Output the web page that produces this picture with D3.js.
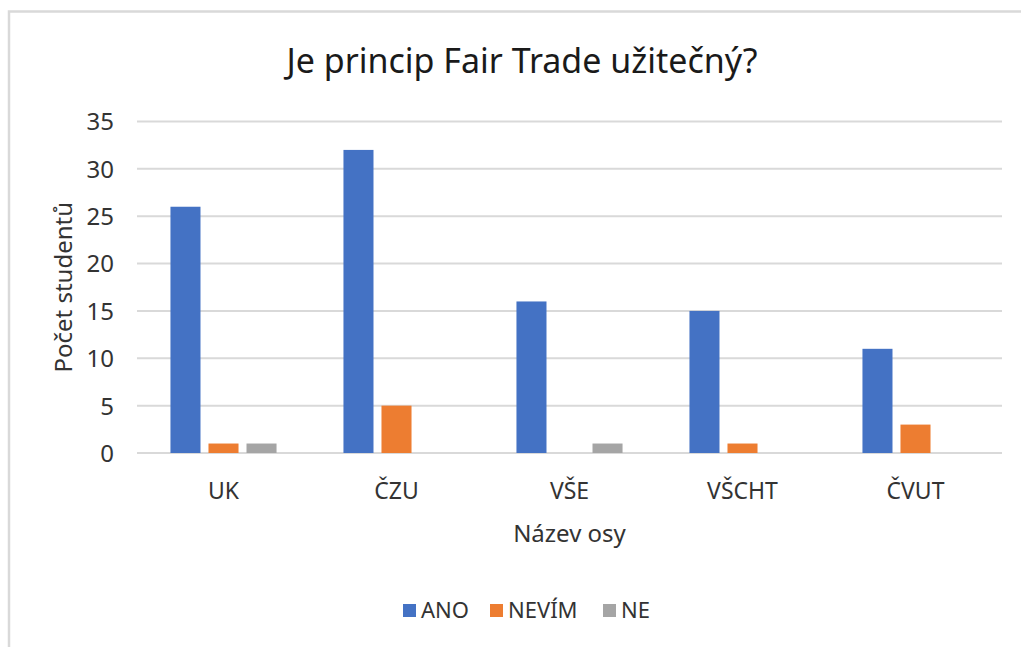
<!DOCTYPE html>
<html>
<head>
<meta charset="utf-8">
<script src="https://cdn.jsdelivr.net/npm/d3@7"></script>
<style>
    body { margin: 0; background: #fff; }
    text { font-family: "Noto Sans", "Open Sans", sans-serif; }
</style>
</head>
<body>
<svg id="chart" width="1021" height="647"></svg>
<script>
// data
const categories = ["UK", "ČZU", "VŠE", "VŠCHT", "ČVUT"];
const seriesNames = ["ANO", "NEVÍM", "NE"];
const anoValues = [26, 32, 16, 15, 11];
const nevimValues = [1, 5, 0, 1, 3];
const neValues = [1, 0, 1, 0, 0];
const yTicks = [0, 5, 10, 15, 20, 25, 30, 35];
const seriesColors = ["#4472C4", "#ED7D31", "#A5A5A5"];

const seriesValues = [anoValues, nevimValues, neValues];
const rows = categories.map((c, i) => ({
    category: c,
    values: seriesNames.map((s, j) => ({ series: s, value: seriesValues[j][i] }))
}));

const svg = d3.select("#chart");

// frame (chart area border, cropped on right/bottom)
svg.append("path")
    .attr("d", "M9,647 V11.5 H1021")
    .attr("fill", "none")
    .attr("stroke", "#d9d9d9")
    .attr("stroke-width", 2.5);

const plot = { left: 137, right: 1002, top: 121.5, bottom: 453 };

const x0 = d3.scaleBand().domain(categories).range([plot.left, plot.right]).padding(0);
const x1 = d3.scaleBand().domain(seriesNames).range([0, x0.bandwidth()])
    .paddingInner(0.21).paddingOuter(0.88);
const y = d3.scaleLinear().domain([0, 35]).range([plot.bottom, plot.top]);
const color = d3.scaleOrdinal().domain(seriesNames).range(seriesColors);

// gridlines
svg.append("g")
    .selectAll("line")
    .data(yTicks)
    .enter().append("line")
    .attr("x1", plot.left)
    .attr("x2", plot.right)
    .attr("y1", d => y(d))
    .attr("y2", d => y(d))
    .attr("stroke", "#d9d9d9")
    .attr("stroke-width", 2);

// y axis labels
const yAxis = d3.axisLeft(y).tickValues(yTicks).tickSize(0).tickPadding(0);
const gy = svg.append("g").attr("transform", `translate(114,0)`).call(yAxis);
gy.select(".domain").remove();
gy.selectAll("text")
    .attr("fill", "#333")
    .style("font-size", "24px")
    .attr("dy", "0.35em");

// bars
svg.append("g")
    .selectAll("g")
    .data(rows)
    .enter().append("g")
    .attr("transform", d => `translate(${x0(d.category)},0)`)
    .selectAll("rect")
    .data(d => d.values)
    .enter().append("rect")
    .attr("x", d => x1(d.series))
    .attr("width", x1.bandwidth())
    .attr("y", d => y(d.value))
    .attr("height", d => y(0) - y(d.value))
    .attr("fill", d => color(d.series));

// x axis labels
const xAxis = d3.axisBottom(x0).tickSize(0).tickPadding(0);
const gx = svg.append("g").attr("transform", `translate(0,${plot.bottom})`).call(xAxis);
gx.select(".domain").remove();
gx.selectAll("text")
    .attr("fill", "#333")
    .style("font-size", "23px")
    .attr("y", 46)
    .attr("dy", 0);

// title
svg.append("text")
    .attr("x", 522)
    .attr("y", 73)
    .attr("text-anchor", "middle")
    .attr("fill", "#1a1a1a")
    .style("font-size", "34px")
    .text("Je princip Fair Trade užitečný?");

// axis titles
svg.append("text")
    .attr("x", (plot.left + plot.right) / 2)
    .attr("y", 542)
    .attr("text-anchor", "middle")
    .attr("fill", "#333")
    .style("font-size", "24px")
    .text("Název osy");

svg.append("text")
    .attr("transform", `translate(72,${(plot.top + plot.bottom) / 2}) rotate(-90)`)
    .attr("text-anchor", "middle")
    .attr("fill", "#333")
    .style("font-size", "24px")
    .text("Počet studentů");

// legend
const legendX = [403, 490, 603];
const legend = svg.append("g")
    .selectAll("g")
    .data(seriesNames)
    .enter().append("g")
    .attr("transform", (d, i) => `translate(${legendX[i]},604)`);
legend.append("rect")
    .attr("width", 13)
    .attr("height", 13)
    .attr("fill", d => color(d));
legend.append("text")
    .attr("x", 18)
    .attr("y", 14)
    .attr("fill", "#333")
    .style("font-size", "22px")
    .text(d => d);
</script>
</body>
</html>
